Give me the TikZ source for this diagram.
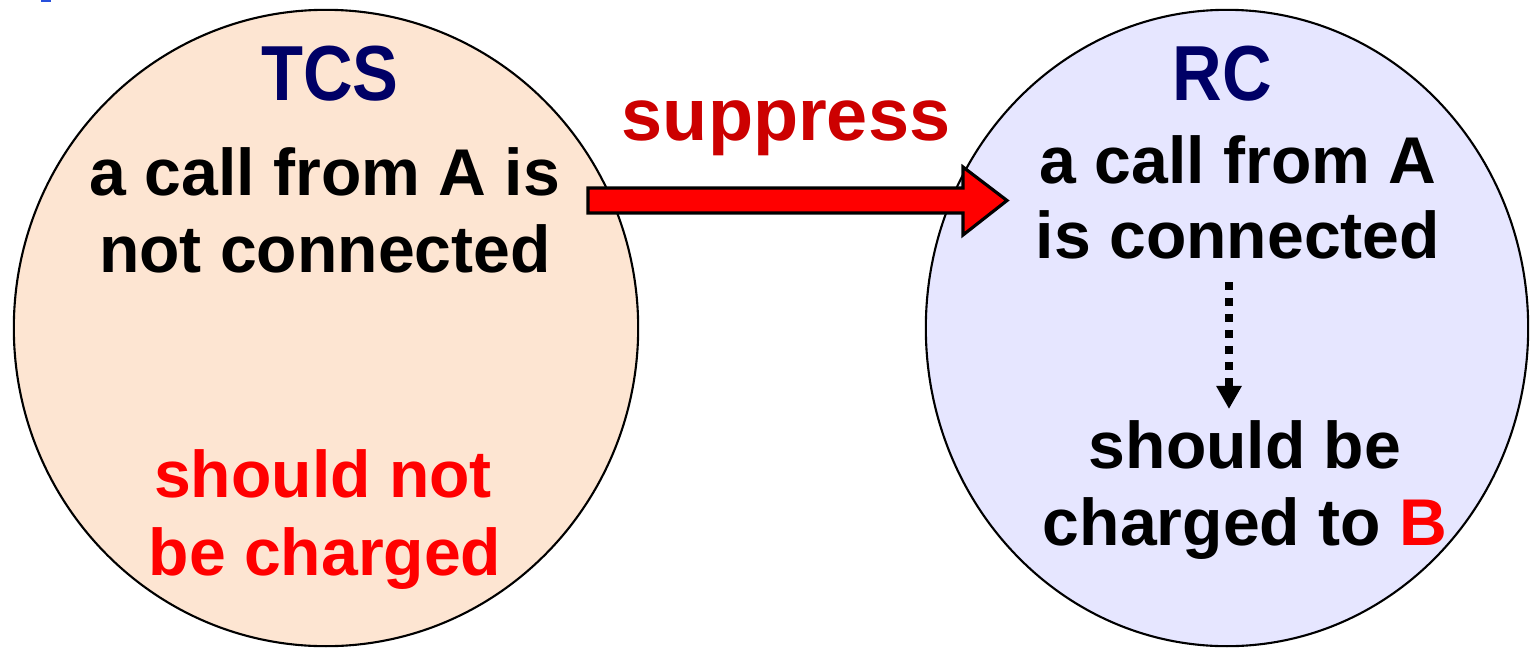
\documentclass[tikz,border=0pt]{standalone}
\usepackage{fontspec}
\setmainfont{Liberation Sans}
\newfontfamily\titlefont[FakeStretch=0.88]{Liberation Sans Bold}
\usetikzlibrary{arrows.meta,shapes.geometric}

\definecolor{peach}{RGB}{253,229,210}
\definecolor{lavender}{RGB}{230,230,255}
\definecolor{navy}{RGB}{0,0,102}
\definecolor{supred}{RGB}{204,0,0}
\definecolor{markblue}{RGB}{40,80,220}

\tikzset{
  bubble/.style={ellipse, draw=black, line width=0.6pt, inner sep=0pt},
  title/.style={anchor=base, inner sep=0pt, text=navy, font=\titlefont\fontsize{22.2}{24}\selectfont},
  body/.style={anchor=base, inner sep=0pt, font=\bfseries\fontsize{18.8}{22}\selectfont},
  verb/.style={anchor=base, inner sep=0pt, text=supred, font=\bfseries\fontsize{21}{24}\selectfont},
  blockarrow/.style={fill=red, draw=black, line width=0.9pt, line join=miter},
  followarrow/.style={line width=2.2pt, dash pattern=on 0.077cm off 0.083cm,
    -{Triangle[length=2.3mm, width=2.4mm]}}
}

\begin{document}
\begin{tikzpicture}[x=0.01cm, y=-0.01cm]
\useasboundingbox (0,0) rectangle (1530,648);

% small blue mark at the top edge
\fill[markblue] (41,0) rectangle (51,1.5);

% the two bubbles
\node[bubble, fill=peach, minimum width=6.24cm, minimum height=6.36cm] (tcsb) at (326,328) {};
\node[bubble, fill=lavender, minimum width=6.02cm, minimum height=6.36cm] (rcb) at (1227,328) {};

% left bubble text
\node[title] (tcs) at (330,100) {TCS};
\node[body] (l1) at (325,195) {a call from A is};
\node[body] (l2) at (325,272) {not connected};
\node[body, text=red] (l3) at (323,497) {should not};
\node[body, text=red] (l4) at (325,575) {be charged};

% right bubble text
\node[title] (rc) at (1222,100) {RC};
\node[body] (r1) at (1238,183) {a call from A};
\node[body] (r2) at (1238,258) {is connected};
\node[body] (r3) at (1245,468) {should be};
\node[body] (r4) at (1245,545) {charged to \textcolor{red}{B}};

% label over the block arrow
\node[verb] (sup) at (786,140) {suppress};

% block arrow from the left bubble to the right bubble
\coordinate (ba) at (588,200.5);
\coordinate (bt) at (1007,200.5);
\draw[blockarrow] (ba) ++(0,-12.5) -- (963,188) -- (963,167) -- (bt)
  -- (963,235) -- (963,213) -- (588,213) -- cycle;

% dotted arrow inside the right bubble
\coordinate (dtop) at (1229,282);
\coordinate (dbot) at (1229,409);
\draw[followarrow] (dtop) -- (dbot);
\end{tikzpicture}
\end{document}
